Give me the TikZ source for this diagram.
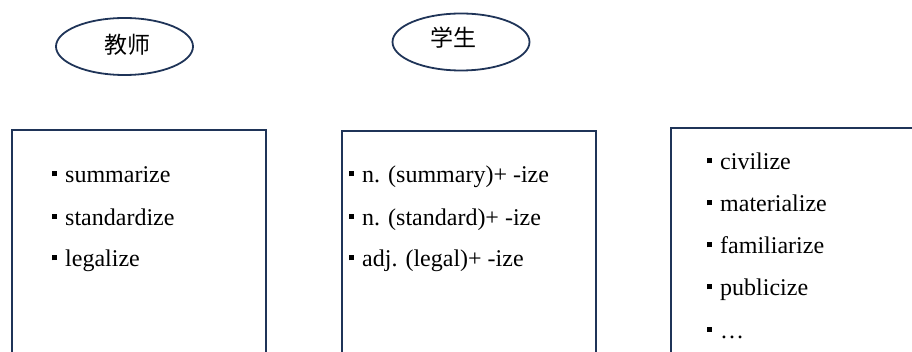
\documentclass[tikz,border=0pt]{standalone}
\usepackage{fontspec}
\setmainfont{Liberation Serif}
\newfontfamily\tnr{Liberation Serif}
\newfontfamily\cjk{Noto Sans CJK SC}
\usetikzlibrary{shapes.geometric}
\definecolor{navy}{HTML}{1F3458}
\newcommand\sqbul{\rule[6.5pt]{5pt}{5pt}\hspace{8pt}}
\begin{document}
\begin{tikzpicture}[x=1pt,y=-1pt,
  frame/.style={draw=navy, line width=1.8pt, rectangle, inner sep=0pt, anchor=north west},
  oval/.style={ellipse, draw=navy, line width=1.8pt, minimum width=137pt, minimum height=57pt, inner sep=0pt},
  cjklabel/.style={font=\cjk\fontsize{23}{26}\selectfont, inner sep=0pt},
  entry/.style={anchor=base west, inner sep=0pt, font=\tnr\fontsize{24}{28}\selectfont}]
\useasboundingbox (0,0) rectangle (912,352);
\clip (0,0) rectangle (912,352);
% ovals
\node[oval] (teacher) at (124.5,46.5) {};
\node[cjklabel] (teacherlbl) at (127.5,45) {教师};
\node[oval] (student) at (461,42) {};
\node[cjklabel] (studentlbl) at (453,38) {学生};
% boxes
\node[frame, minimum width=254pt, minimum height=260pt] (box1) at (10.7,129) {};
\node[frame, minimum width=254pt, minimum height=260pt] (box2) at (341,130) {};
\node[frame, minimum width=280pt, minimum height=260pt] (box3) at (670,127) {};
% box 1 entries
\node[entry] (b1a) at (52,183) {\sqbul summarize};
\node[entry] (b1b) at (52,225.5) {\sqbul standardize};
\node[entry] (b1c) at (52,267) {\sqbul legalize};
% box 2 entries
\node[entry] (b2a) at (349,183) {\sqbul n. (summary)+ -ize};
\node[entry] (b2b) at (349,225.5) {\sqbul n. (standard)+ -ize};
\node[entry] (b2c) at (349,267) {\sqbul adj. (legal)+ -ize};
% box 3 entries
\node[entry] (b3a) at (707,170) {\sqbul civilize};
\node[entry] (b3b) at (707,212) {\sqbul materialize};
\node[entry] (b3c) at (707,254) {\sqbul familiarize};
\node[entry] (b3d) at (707,296) {\sqbul publicize};
\node[entry] (b3e) at (707,338) {\sqbul …};
\end{tikzpicture}
\end{document}
